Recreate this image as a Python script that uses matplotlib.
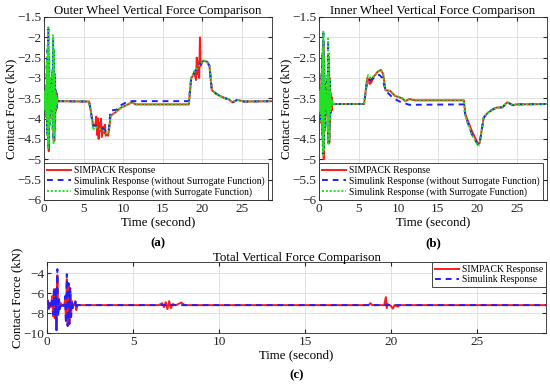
import matplotlib
matplotlib.use("Agg")
import matplotlib.pyplot as plt

plt.rcParams["font.family"] = ["Liberation Serif", "DejaVu Serif"]

# ---- shared time base for the start-up oscillation (0 .. 1.75 s) ----------- #
t_start = [0.0, 0.05, 0.1, 0.15, 0.2, 0.25, 0.3, 0.35, 0.4, 0.45, 0.5, 0.55,
           0.6, 0.65, 0.7, 0.75, 0.8, 0.85, 0.9, 0.95, 1.0, 1.05, 1.1, 1.15,
           1.2, 1.25, 1.3, 1.35, 1.4, 1.45, 1.5, 1.55, 1.6, 1.65, 1.7, 1.75]

# ---- (a) outer wheel -------------------------------------------------------- #
outer_red_start = [-3.55, -3.35, -3.7, -3.4, -3.75, -3.3, -3.8, -3.2, -4.2, -2.9,
                   -4.5, -2.7, -4.8, -3.0, -4.0, -3.2, -3.8, -3.4, -3.7, -3.5,
                   -3.6, -3.3, -3.9, -2.8, -4.3, -2.55, -4.55, -2.9, -4.1, -3.3,
                   -3.8, -3.35, -3.75, -3.4, -3.6, -3.57]
outer_blue_start = [-3.55, -3.4, -3.7, -3.35, -3.8, -3.25, -3.95, -2.7, -4.35, -2.3,
                    -4.7, -1.8, -4.55, -2.45, -4.15, -3.05, -3.85, -3.3, -3.7, -3.4,
                    -3.75, -2.85, -4.25, -2.0, -4.55, -2.35, -4.35, -2.95, -3.95, -3.3,
                    -3.75, -3.45, -3.65, -3.5, -3.6, -3.57]
outer_green_start = [-3.55, -3.4, -3.75, -3.3, -3.8, -3.2, -4.0, -2.6, -4.4, -2.2,
                     -4.75, -1.75, -4.6, -2.4, -4.2, -3.0, -3.9, -3.3, -3.7, -3.4,
                     -3.8, -2.8, -4.3, -1.95, -4.6, -2.3, -4.4, -2.9, -4.0, -3.3,
                     -3.75, -3.45, -3.65, -3.5, -3.6, -3.57]

outer_red_t = [5.7, 6.0, 6.2, 6.5, 6.6, 6.7, 6.8, 6.9, 7.0, 7.1, 7.2, 7.3, 7.5,
               7.6, 7.7, 7.8, 8.0, 8.1, 8.2, 8.4, 8.6, 9.0, 9.4, 9.8, 10.4, 11.1,
               11.6, 12.2, 18.3, 18.6, 18.8, 19.0, 19.2, 19.3, 19.4, 19.5, 19.6,
               19.7, 19.8, 19.9, 20.0, 20.2, 20.6, 20.9, 21.2, 21.7, 22.3, 22.9,
               23.3, 23.8, 24.4, 25.3, 29.0]
outer_red_v = [-3.58, -3.9, -4.15, -4.15, -3.95, -4.4, -4.0, -4.5, -4.1, -4.3,
               -4.0, -4.45, -4.2, -4.35, -4.15, -4.42, -4.4, -4.42, -4.3, -3.95,
               -3.9, -3.85, -3.78, -3.72, -3.67, -3.6, -3.65, -3.65, -3.65, -3.0,
               -2.95, -2.85, -3.05, -2.5, -2.9, -2.6, -3.0, -2.0, -2.7, -2.65,
               -2.6, -2.58, -2.6, -2.7, -3.3, -3.38, -3.45, -3.5, -3.52, -3.6,
               -3.54, -3.58, -3.57]
outer_green_t = [5.7, 6.0, 6.2, 6.5, 7.0, 7.5, 8.0, 8.2, 8.4, 8.6, 9.0, 9.4, 9.8,
                 10.4, 11.1, 11.6, 12.2, 18.3, 18.6, 18.8, 19.0, 19.5, 20.0, 20.2,
                 20.6, 20.9, 21.2, 21.7, 22.3, 22.9, 23.3, 23.8, 24.4, 25.3, 29.0]
outer_green_v = [-3.58, -3.95, -4.28, -4.2, -4.25, -4.3, -4.38, -4.3, -3.95, -3.9,
                 -3.85, -3.78, -3.72, -3.67, -3.6, -3.65, -3.65, -3.65, -3.0, -2.95,
                 -2.85, -2.72, -2.6, -2.57, -2.6, -2.7, -3.3, -3.38, -3.45, -3.5,
                 -3.52, -3.6, -3.54, -3.58, -3.57]
outer_blue_t = [5.7, 6.0, 6.2, 6.5, 7.0, 7.5, 8.0, 8.2, 8.4, 9.2, 9.6, 10.4, 11.1,
                18.3, 18.6, 18.8, 19.0, 19.5, 20.0, 20.2, 20.6, 20.9, 21.2, 21.7,
                22.3, 22.9, 23.3, 23.8, 24.4, 25.3, 29.0]
outer_blue_v = [-3.58, -3.95, -4.18, -4.17, -4.2, -4.25, -4.35, -4.25, -3.8, -3.78,
                -3.68, -3.6, -3.57, -3.57, -3.0, -2.95, -2.85, -2.72, -2.6, -2.57,
                -2.6, -2.7, -3.3, -3.38, -3.45, -3.5, -3.52, -3.6, -3.54, -3.58,
                -3.57]

# ---- (b) inner wheel -------------------------------------------------------- #
inner_red_start = [-3.62, -3.3, -3.8, -3.4, -3.9, -3.3, -4.1, -2.9, -4.3, -2.5,
                   -4.7, -2.1, -5.0, -2.8, -4.3, -3.1, -3.9, -3.4, -3.75, -3.5,
                   -3.7, -3.2, -4.0, -2.7, -4.5, -2.6, -4.6, -3.0, -4.1, -3.4,
                   -3.85, -3.45, -3.8, -3.5, -3.65, -3.64]
inner_blue_start = [-3.62, -3.4, -3.8, -3.35, -3.9, -3.25, -4.1, -2.85, -4.45, -2.35,
                    -4.85, -1.9, -4.75, -2.55, -4.25, -3.05, -3.9, -3.35, -3.75, -3.45,
                    -3.75, -2.95, -4.25, -2.1, -4.6, -2.45, -4.45, -3.0, -4.0, -3.35,
                    -3.8, -3.5, -3.7, -3.55, -3.66, -3.64]
inner_green_start = [-3.62, -3.4, -3.8, -3.3, -3.9, -3.2, -4.1, -2.8, -4.5, -2.3,
                     -4.9, -1.86, -4.8, -2.5, -4.3, -3.0, -3.9, -3.3, -3.75, -3.45,
                     -3.8, -2.9, -4.3, -2.03, -4.65, -2.4, -4.5, -3.0, -4.0, -3.35,
                     -3.8, -3.5, -3.7, -3.55, -3.66, -3.64]

inner_red_t = [5.7, 6.1, 6.3, 6.4, 6.5, 6.6, 6.8, 7.0, 7.4, 7.8, 8.1, 8.4, 9.0,
               9.6, 10.5, 10.9, 11.4, 12.2, 18.3, 18.5, 19.0, 19.3, 19.8, 20.1,
               20.3, 20.8, 21.3, 21.9, 22.4, 23.2, 23.6, 23.8, 24.5, 24.9, 29.0]
inner_red_v = [-3.64, -3.0, -3.05, -3.15, -3.0, -3.12, -3.0, -2.95, -2.85, -2.8,
               -2.9, -3.3, -3.32, -3.44, -3.5, -3.57, -3.52, -3.55, -3.55, -3.9,
               -4.15, -4.3, -4.5, -4.62, -4.6, -3.98, -3.86, -3.78, -3.73, -3.72,
               -3.63, -3.6, -3.67, -3.65, -3.64]
inner_green_t = [5.7, 6.1, 6.2, 6.5, 7.0, 7.4, 7.8, 8.1, 8.4, 9.0, 9.6, 10.5, 10.9,
                 11.4, 12.2, 18.3, 18.5, 19.0, 19.3, 19.8, 20.1, 20.3, 20.8, 21.3,
                 21.9, 22.4, 23.2, 23.6, 23.8, 24.5, 24.9, 29.0]
inner_green_v = [-3.64, -3.0, -2.93, -3.0, -2.95, -2.85, -2.8, -2.9, -3.3, -3.32,
                 -3.44, -3.5, -3.57, -3.52, -3.55, -3.55, -3.95, -4.23, -4.4, -4.57,
                 -4.67, -4.62, -3.98, -3.86, -3.78, -3.73, -3.72, -3.63, -3.6, -3.67,
                 -3.65, -3.64]
inner_blue_t = [5.7, 6.1, 6.5, 7.0, 7.6, 8.0, 8.4, 8.7, 9.4, 10.2, 11.4, 18.3,
                18.5, 19.0, 19.3, 19.8, 20.1, 20.3, 20.8, 21.3, 21.9, 22.4, 23.2,
                23.6, 23.8, 24.5, 24.9, 29.0]
inner_blue_v = [-3.64, -3.05, -3.05, -3.0, -2.92, -3.0, -3.3, -3.37, -3.5, -3.58,
                -3.66, -3.65, -3.95, -4.2, -4.38, -4.55, -4.64, -4.6, -3.98, -3.86,
                -3.78, -3.73, -3.72, -3.63, -3.6, -3.67, -3.65, -3.64]

# ---- (c) total force -------------------------------------------------------- #
total_red_start = [-7.2, -6.7, -7.6, -7.0, -7.4, -7.1, -6.3, -8.3, -5.6, -8.5,
                   -6.0, -9.7, -4.2, -8.0, -6.8, -7.5, -7.0, -7.3, -7.2, -7.2,
                   -7.3, -6.5, -8.8, -4.6, -9.2, -5.3, -9.0, -5.8, -8.2, -6.8,
                   -7.4, -7.2, -7.2, -6.8, -7.7, -7.2]
total_blue_start = [-7.2, -6.8, -7.5, -7.0, -7.4, -7.1, -6.5, -8.1, -5.8, -8.4,
                    -5.5, -9.7, -3.6, -8.3, -6.6, -7.6, -7.0, -7.3, -7.2, -7.2,
                    -7.3, -6.3, -9.0, -4.1, -9.3, -5.0, -9.1, -5.5, -8.4, -6.7,
                    -7.5, -7.2, -7.2, -6.9, -7.6, -7.2]
total_red_t = [6.5, 6.7, 6.8, 6.9, 7.0, 7.1, 7.2, 7.3, 7.5, 7.8, 8.0, 18.7, 18.8,
               18.9, 19.6, 19.7, 19.75, 19.8, 20.0, 20.1, 20.2, 20.4, 20.5, 29.0]
total_red_v = [-7.2, -7.0, -7.4, -6.9, -7.6, -6.8, -7.5, -7.1, -7.2, -6.95, -7.2,
               -7.2, -7.0, -7.2, -7.2, -6.4, -7.5, -7.1, -7.3, -7.55, -7.2, -7.35,
               -7.2, -7.2]
total_blue_t = [6.9, 7.0, 7.1, 29.0]
total_blue_v = [-7.2, -7.3, -7.2, -7.2]

top_xticks = [0, 5, 10, 15, 20, 25]
top_yticks = [-6, -5.5, -5, -4.5, -4, -3.5, -3, -2.5, -2, -1.5]
bottom_yticks = [-10, -8, -6, -4]

RED = "#ff1a1a"
BLUE = "#1f1fff"
GREEN = "#22e022"
TICK_FS = 9.5
LABEL_FS = 9.3
LEG_FS = 6.9


def fmt(v):
    # MATLAB-style labels ("-2", "-2.5") with a proper minus sign
    s = f"{v:g}"
    return s.replace("-", "\u2212")


def style_axes(ax):
    ax.grid(True, color="#dcdcdc", lw=0.6)
    ax.set_axisbelow(True)
    ax.tick_params(direction="in", labelsize=TICK_FS, length=3, pad=2,
                   top=True, right=True, colors="#262626")
    for s in ax.spines.values():
        s.set_color("#262626")
        s.set_linewidth(0.6)


def add_legend(ax, **kw):
    leg = ax.legend(borderaxespad=0, fontsize=LEG_FS, handlelength=2.5,
                    handletextpad=0.35, labelspacing=0.15, borderpad=0.3,
                    fancybox=False, framealpha=1, edgecolor="#262626", **kw)
    leg.get_frame().set_linewidth(0.6)


def top_panel(ax, title, red, blue, green):
    ax.plot(*red, color=RED, lw=1.4, label="SIMPACK Response", zorder=3)
    ax.plot(*blue, color=BLUE, lw=1.4, ls=(0, (3, 2.5)),
            label="Simulink Response (without Surrogate Function)", zorder=4)
    ax.plot(*green, color=GREEN, lw=1.4, ls=(0, (1, 1)),
            label="Simulink Response (with Surrogate Function)", zorder=5)
    ax.set_xlim(0, 28.8)
    ax.set_ylim(-6, -1.5)
    ax.set_xticks(top_xticks)
    ax.set_xticklabels([fmt(v) for v in top_xticks])
    ax.set_yticks(top_yticks)
    ax.set_yticklabels([fmt(v) for v in top_yticks])
    ax.set_title(title, fontsize=LABEL_FS, pad=2)
    ax.set_xlabel("Time (second)", fontsize=LABEL_FS, labelpad=1)
    ax.set_ylabel("Contact Force (kN)", fontsize=LABEL_FS, labelpad=0)
    style_axes(ax)
    add_legend(ax, loc="lower left", bbox_to_anchor=(0, 0))


def series(t0, v0, t1, v1):
    return t0 + t1, v0 + v1


fig = plt.figure(figsize=(5.5, 3.86), dpi=100)
ax_a = fig.add_axes([0.08, 0.482, 0.4145, 0.474])
ax_b = fig.add_axes([0.58, 0.482, 0.4145, 0.474])
ax_c = fig.add_axes([0.0855, 0.137, 0.907, 0.184])

top_panel(ax_a, "Outer Wheel Vertical Force Comparison",
          series(t_start, outer_red_start, outer_red_t, outer_red_v),
          series(t_start, outer_blue_start, outer_blue_t, outer_blue_v),
          series(t_start, outer_green_start, outer_green_t, outer_green_v))
top_panel(ax_b, "Inner Wheel Vertical Force Comparison",
          series(t_start, inner_red_start, inner_red_t, inner_red_v),
          series(t_start, inner_blue_start, inner_blue_t, inner_blue_v),
          series(t_start, inner_green_start, inner_green_t, inner_green_v))

rt, rv = series(t_start, total_red_start, total_red_t, total_red_v)
bt, bv = series(t_start, total_blue_start, total_blue_t, total_blue_v)
ax_c.plot(rt, rv, color=RED, lw=1.4, label="SIMPACK Response", zorder=3)
ax_c.plot(bt, bv, color=BLUE, lw=1.4, ls=(0, (3, 2.5)),
          label="Simulink Response", zorder=4)
ax_c.set_xlim(0, 29)
ax_c.set_ylim(-10, -2.9)
ax_c.set_xticks(top_xticks)
ax_c.set_xticklabels([fmt(v) for v in top_xticks])
ax_c.set_yticks(bottom_yticks)
ax_c.set_yticklabels([fmt(v) for v in bottom_yticks])
ax_c.set_title("Total Vertical Force Comparison", fontsize=LABEL_FS, pad=1)
ax_c.set_xlabel("Time (second)", fontsize=LABEL_FS, labelpad=1)
ax_c.set_ylabel("Contact Force (kN)", fontsize=LABEL_FS, labelpad=0)
style_axes(ax_c)
add_legend(ax_c, loc="upper right")

fig.text(0.287, 1 - 243 / 386, "(a)", ha="center", va="center",
         fontsize=LABEL_FS, fontweight="bold")
fig.text(0.787, 1 - 243 / 386, "(b)", ha="center", va="center",
         fontsize=LABEL_FS, fontweight="bold")
fig.text(0.54, 1 - 375 / 386, "(c)", ha="center", va="center",
         fontsize=LABEL_FS, fontweight="bold")

fig.savefig("out.png", dpi=100)
